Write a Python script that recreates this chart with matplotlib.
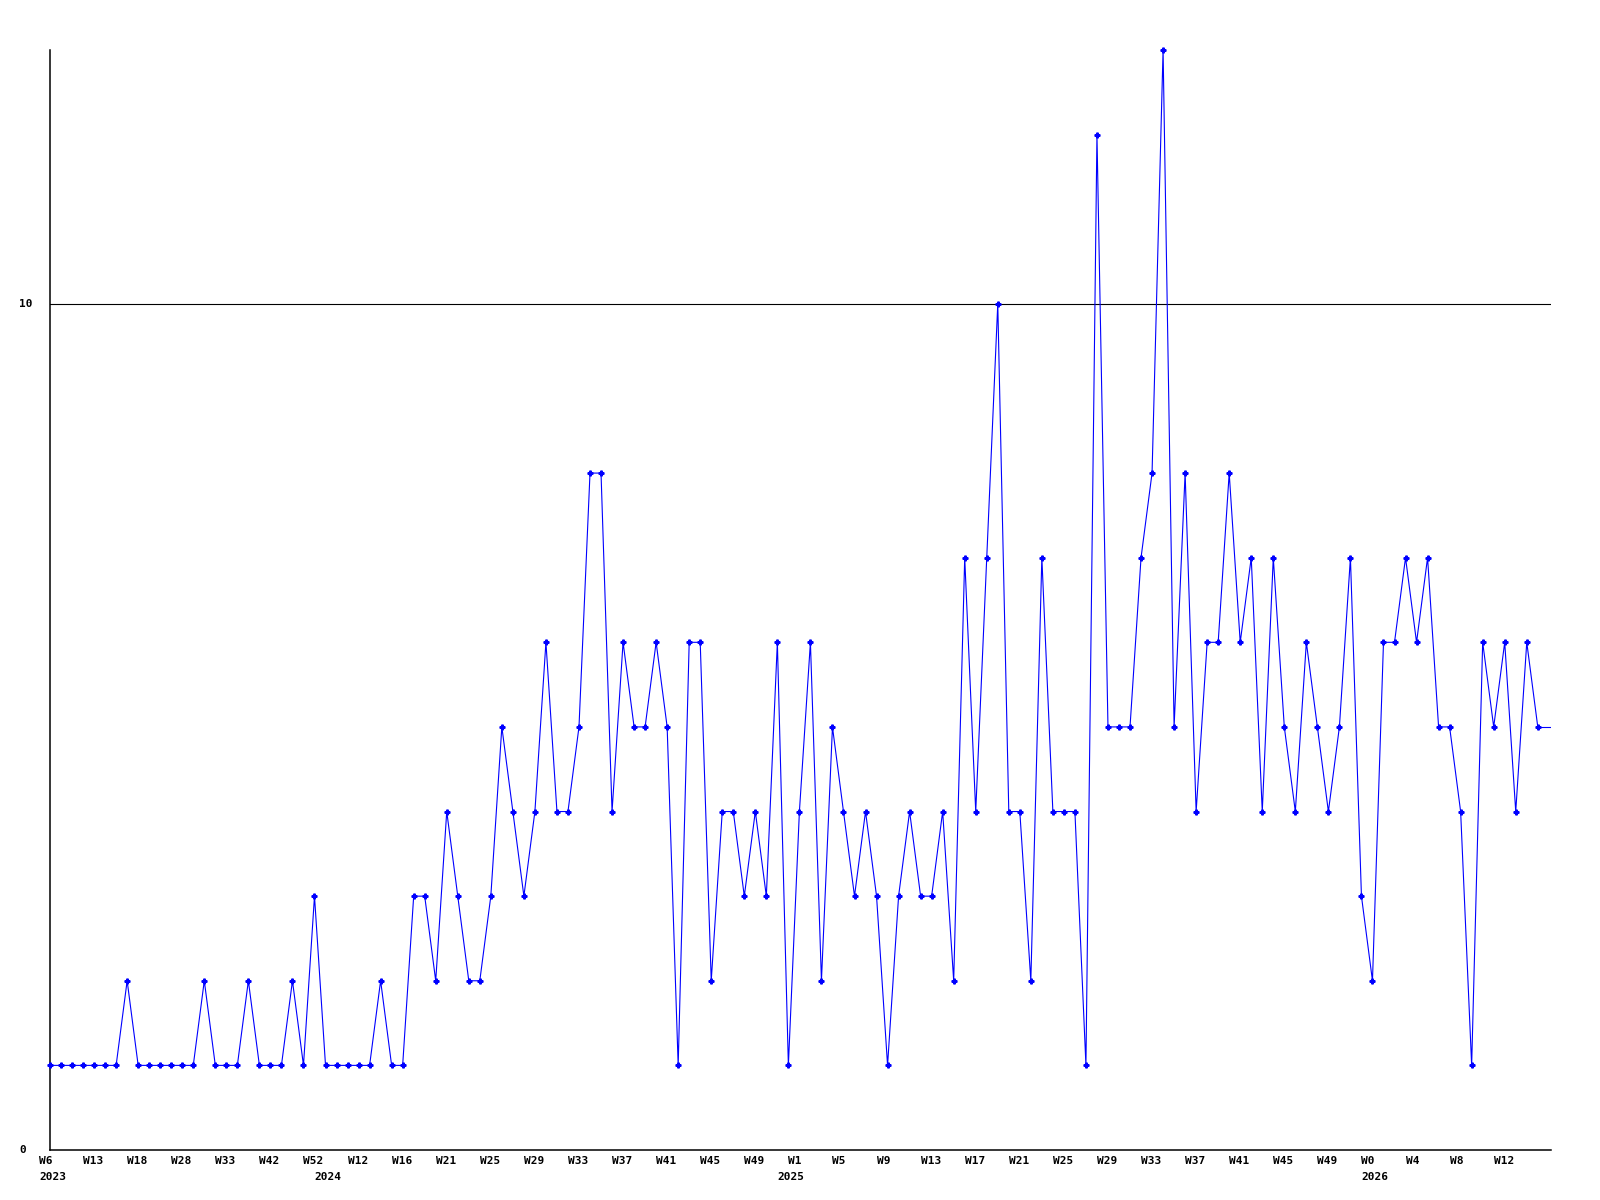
import numpy as np
import matplotlib
matplotlib.use('Agg')
import matplotlib.pyplot as plt
from matplotlib.transforms import blended_transform_factory

# weekly counts
counts = [1, 1, 1, 1, 1, 1, 1, 2, 1, 1, 1, 1, 1, 1, 2, 1, 1, 1, 2, 1, 1, 1, 2, 1, 3,
          1, 1, 1, 1, 1, 2, 1, 1,
          3, 3, 2, 4, 3, 2, 2, 3, 5, 4, 3, 4, 6, 4, 4, 5, 8, 8, 4, 6, 5, 5, 6, 5, 1,
          6, 6, 2, 4, 4, 3, 4, 3, 6, 1, 4, 6, 2, 5, 4, 3, 4, 3, 1, 3, 4, 3,
          3, 4, 2, 7, 4, 7, 10, 4, 4, 2, 7, 4, 4, 4, 1, 12, 5, 5, 5, 7, 8, 13,
          5, 8, 4, 6, 6, 8, 6, 7,
          4, 7, 5, 4, 6, 5, 4, 5, 7, 3, 2, 6, 6, 7, 6, 7,
          5, 5, 4, 1, 6, 5, 6, 4, 6, 5]

week_labels = ['W6', 'W13', 'W18', 'W28', 'W33', 'W42', 'W52', 'W12', 'W16', 'W21',
               'W25', 'W29', 'W33', 'W37', 'W41', 'W45', 'W49', 'W1', 'W5', 'W9',
               'W13', 'W17', 'W21', 'W25', 'W29', 'W33', 'W37', 'W41', 'W45', 'W49',
               'W0', 'W4', 'W8', 'W12']
year_labels = ['2023', '2024', '2025', '2026']
year_index = [0, 25, 67, 120]

x = np.arange(len(counts))
x_right = 136.2

fig = plt.figure(figsize=(16, 12), dpi=100)
ax = fig.add_axes([50 / 1600, 50 / 1200, 1501 / 1600, 1100 / 1200])

ax.axhline(10, color='black', linewidth=0.8, zorder=1)
ax.plot(x, counts, color='#0000ff', linewidth=0.8, marker='P', markersize=3.5,
        clip_on=False, zorder=3)
# line runs on to the right edge at the last value
ax.plot([x[-1], x_right], [counts[-1], counts[-1]], color='#0000ff',
        linewidth=0.8, zorder=3)

ax.set_xlim(0, x_right)
ax.set_ylim(0, 13)
for side in ['top', 'right']:
    ax.spines[side].set_visible(False)
for side in ['left', 'bottom']:
    ax.spines[side].set_linewidth(1.1)
ax.set_xticks([])
ax.set_yticks([])

font = dict(family='DejaVu Sans Mono', fontweight='bold', fontsize=8)

# x labels: left edge one step before the point
tx = blended_transform_factory(ax.transData, ax.transAxes)
for i, lab in enumerate(week_labels):
    ax.text(i * 4 - 1, -0.010, lab, transform=tx, ha='left', va='center',
            clip_on=False, **font)
for pos, lab in zip(year_index, year_labels):
    ax.text(pos - 1, -0.0245, lab, transform=tx, ha='left', va='center',
            clip_on=False, **font)

# y labels
ty = blended_transform_factory(ax.transAxes, ax.transData)
for v in [0, 10]:
    ax.text(-0.0205, v, str(v), transform=ty, ha='left', va='center',
            clip_on=False, **font)

fig.savefig('out.png', dpi=100, facecolor='white')
